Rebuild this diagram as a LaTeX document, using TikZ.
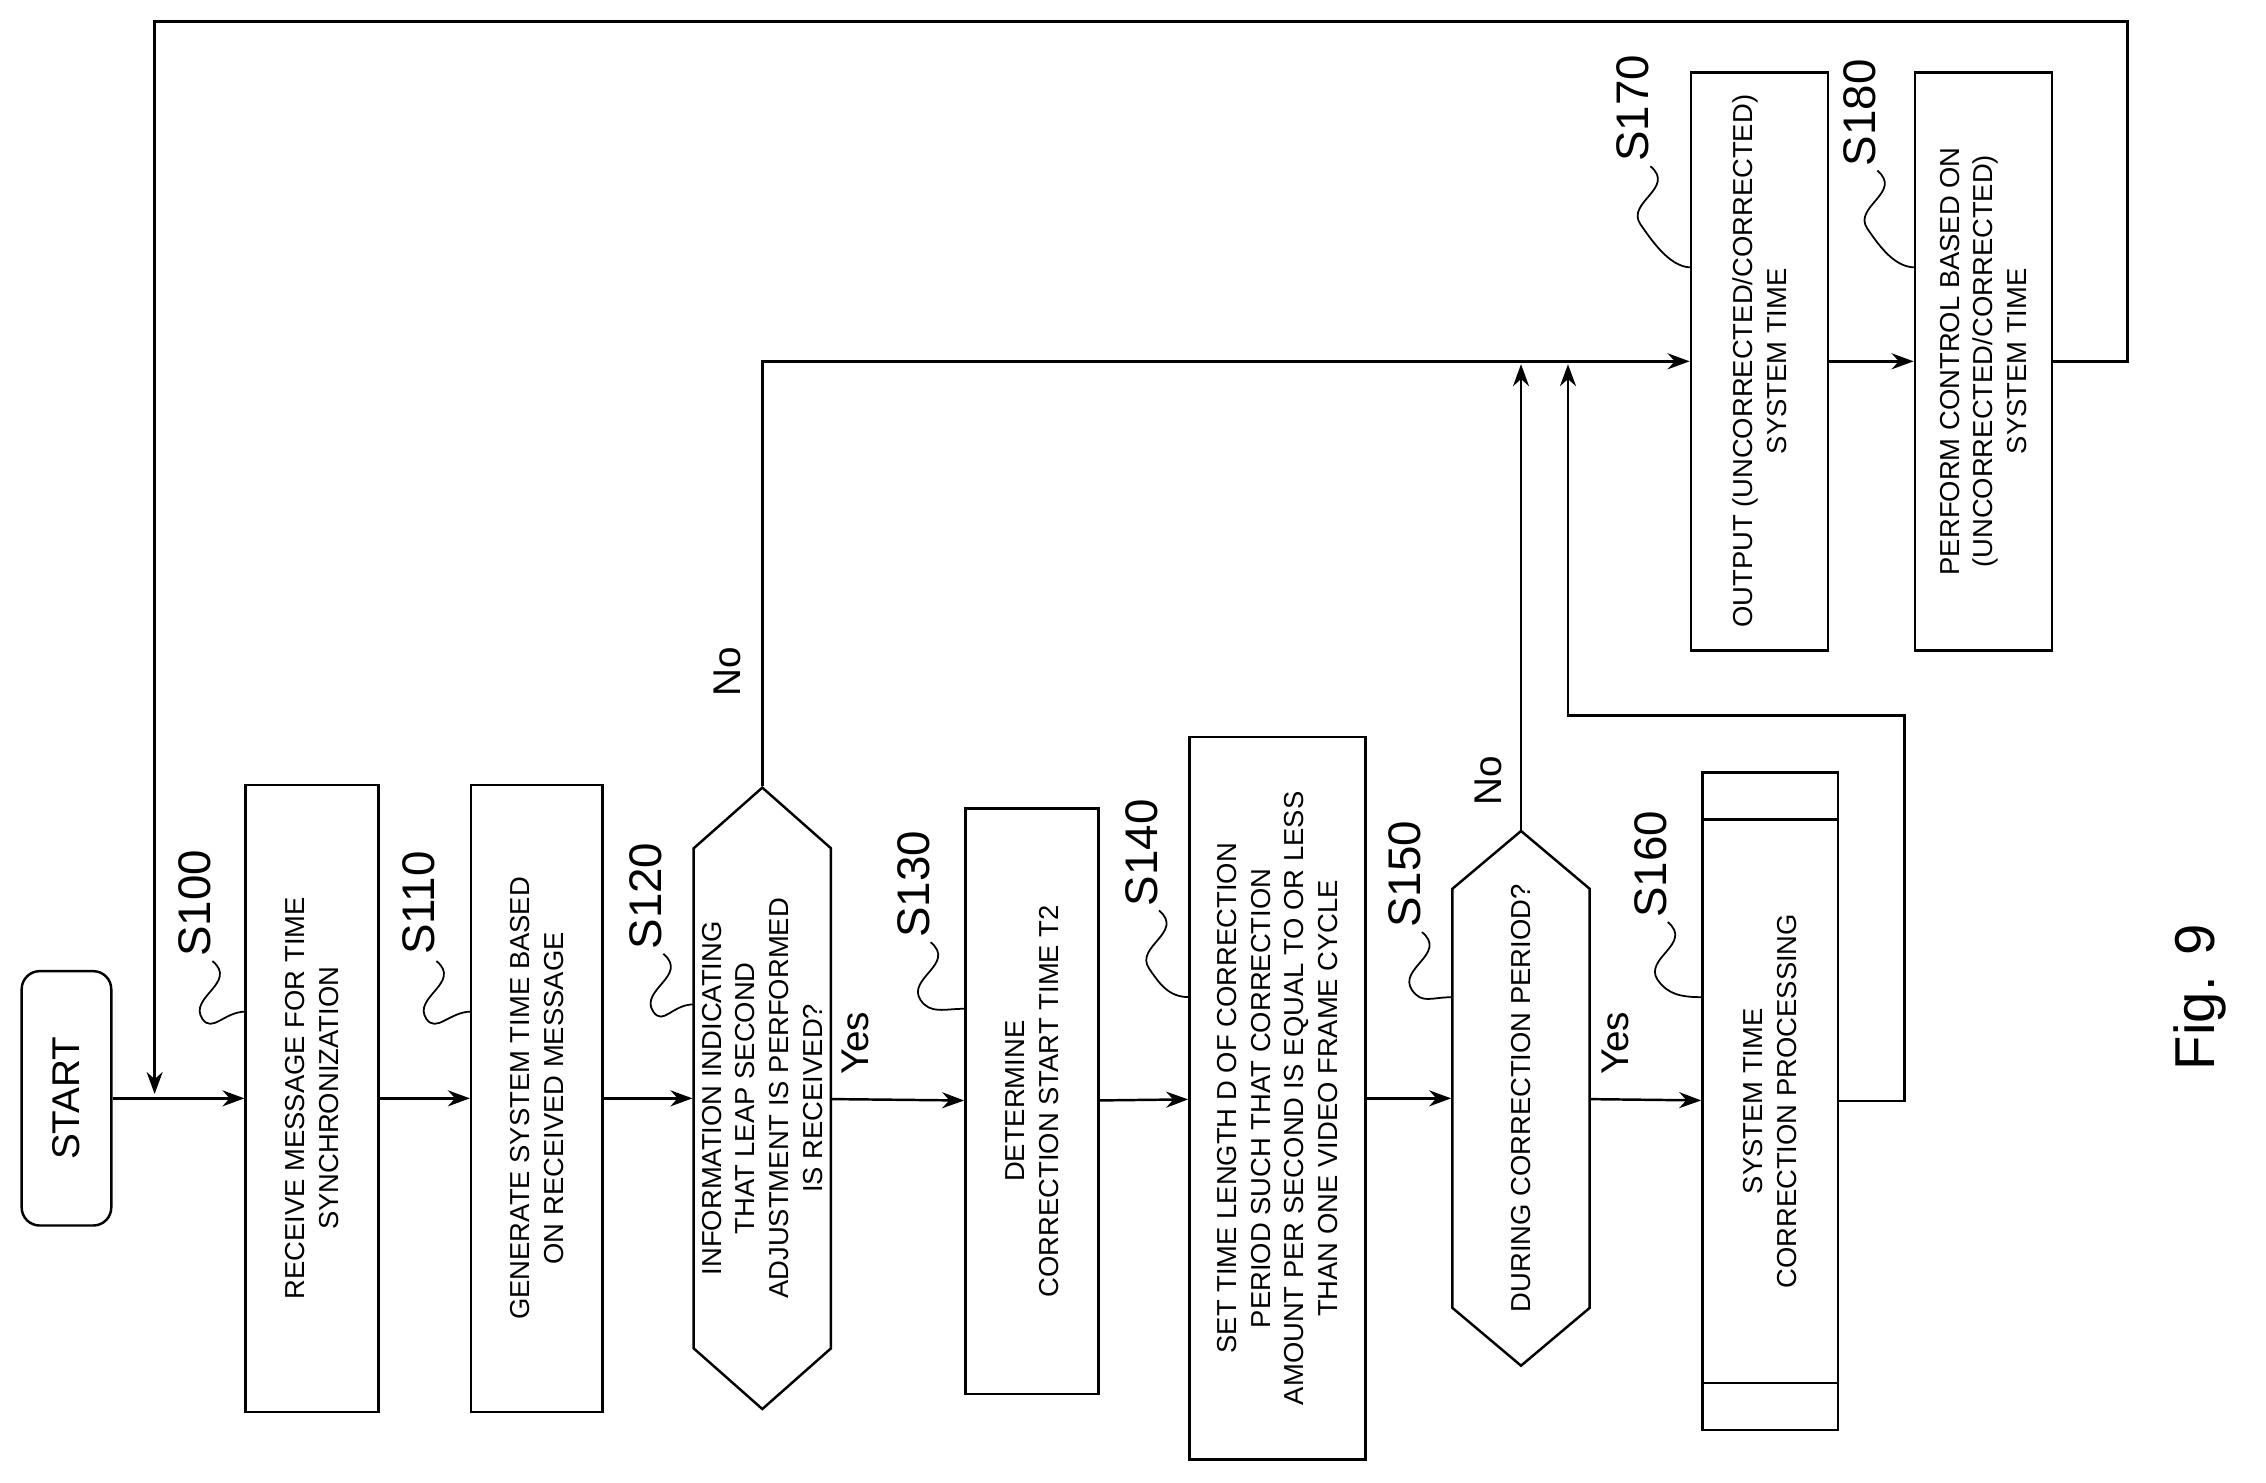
\documentclass[tikz,border=0pt]{standalone}
\usepackage{fontspec}
\setmainfont{Liberation Sans}
\usetikzlibrary{arrows.meta,calc}
\begin{document}
\begin{tikzpicture}[x=0.1445mm,y=-0.1445mm,line width=0.7pt,
  box/.style={draw,rotate=90,inner sep=0,align=center,font=\fontsize{7.8}{9.6}\selectfont},
  hex/.style={rotate=90,inner sep=0,align=center,font=\fontsize{7.8}{9.6}\selectfont},
  lab/.style={rotate=90,font=\fontsize{13}{13}\selectfont,inner sep=0},
  yn/.style={rotate=90,font=\fontsize{11}{11}\selectfont,inner sep=0},
  arr/.style={-{Stealth[length=2.2mm,width=1.6mm]}},
  lead/.style={line width=0.5pt}]
\useasboundingbox (0,0) rectangle (1568,1026);
\def\s{0.1445mm}
\node[box,rounded corners=1.8mm,minimum width=176*\s,minimum height=62*\s,font=\fontsize{11}{11}\selectfont] (start) at (46,760) {START};
\node[box,minimum width=434*\s,minimum height=92*\s] (s100) at (216,760) {RECEIVE MESSAGE FOR TIME\\SYNCHRONIZATION};
\node[box,minimum width=434*\s,minimum height=91*\s] (s110) at (371.5,760) {GENERATE SYSTEM TIME BASED\\ON RECEIVED MESSAGE};
\node[hex,minimum width=430*\s,minimum height=95*\s] (s120) at (527.5,760) {INFORMATION INDICATING\\THAT LEAP SECOND\\ADJUSTMENT IS PERFORMED\\IS RECEIVED?};
\draw (480,587)--(527.5,545)--(575,587)--(575,933)--(527.5,975)--(480,933)--cycle;
\node[box,minimum width=405*\s,minimum height=92*\s] (s130) at (714,762) {DETERMINE\\CORRECTION START TIME T2};
\node[box,minimum width=500*\s,minimum height=122*\s] (s140) at (884,760) {SET TIME LENGTH D OF CORRECTION\\PERIOD SUCH THAT CORRECTION\\AMOUNT PER SECOND IS EQUAL TO OR LESS\\THAN ONE VIDEO FRAME CYCLE};
\node[hex,minimum width=370*\s,minimum height=95*\s] (s150) at (1052.5,760) {DURING CORRECTION PERIOD?};
\draw (1005,615)--(1052.5,575)--(1100,615)--(1100,905)--(1052.5,945)--(1005,905)--cycle;
\node[box,minimum width=455*\s,minimum height=94*\s] (s160) at (1225,762) {SYSTEM TIME\\CORRECTION PROCESSING};
\draw (1178,567)--(1272,567) (1178,957)--(1272,957);
\node[box,minimum width=400*\s,minimum height=95*\s] (s170) at (1217.5,250) {OUTPUT (UNCORRECTED/CORRECTED)\\SYSTEM TIME};
\node[box,minimum width=400*\s,minimum height=95*\s] (s180) at (1372.5,250) {PERFORM CONTROL BASED ON\\(UNCORRECTED/CORRECTED)\\SYSTEM TIME};
% connectors
\draw[arr] (start) -- (s100);
\draw[arr] (s100) -- (s110);
\draw[arr] (s110) -- (s120);
\draw[arr] (s120) -- (s130);
\draw[arr] (s130) -- (s140);
\draw[arr] (s140) -- (s150);
\draw[arr] (s150) -- (s160);
\draw[arr] (s170) -- (s180);
\coordinate (j1) at (107,757);
\coordinate (j2) at (1052.5,252);
\coordinate (j3) at (1085,252);
\draw[arr] (s180.south) -- (1472,250) -- (1472,15) -- (107,15) -- (j1);
\draw[arr] (s120.east) -- (527.5,250) -- (s170);
\draw[arr] (s150.east) -- (j2);
\draw[arr] (s160.south) -- (1318,762) -- (1318,495) -- (1085,495) -- (j3);
% labels
\node[yn] (no1) at (503,465) {No};
\node[yn] (yes1) at (592,722) {Yes};
\node[yn] (no2) at (1030,540) {No};
\node[yn] (yes2) at (1118,722) {Yes};
\node[rotate=90,font=\fontsize{16}{16}\selectfont] (fig) at (1522,690) {Fig. 9};
\foreach \n/\lx/\ly/\bx/\by in {S100/135/625/170/700, S110/290/625/326/700, S120/447/620/480/695, S130/632/612/668/698, S140/790/590/823/690, S150/972/605/1005/690, S160/1142/598/1178/690, S170/1130/75/1170/185, S180/1287/78/1325/185}{
  \node[lab] (l\n) at (\lx,\ly) {\n};
  \draw[lead] (\lx+12,\ly+40) .. controls (\lx+30,\ly+55) and (\lx-5,\ly+65) .. (\lx+5,\ly+80) .. controls (\lx+12,\ly+90) and (\bx-15,\by) .. (\bx,\by);
}
\end{tikzpicture}
\end{document}
